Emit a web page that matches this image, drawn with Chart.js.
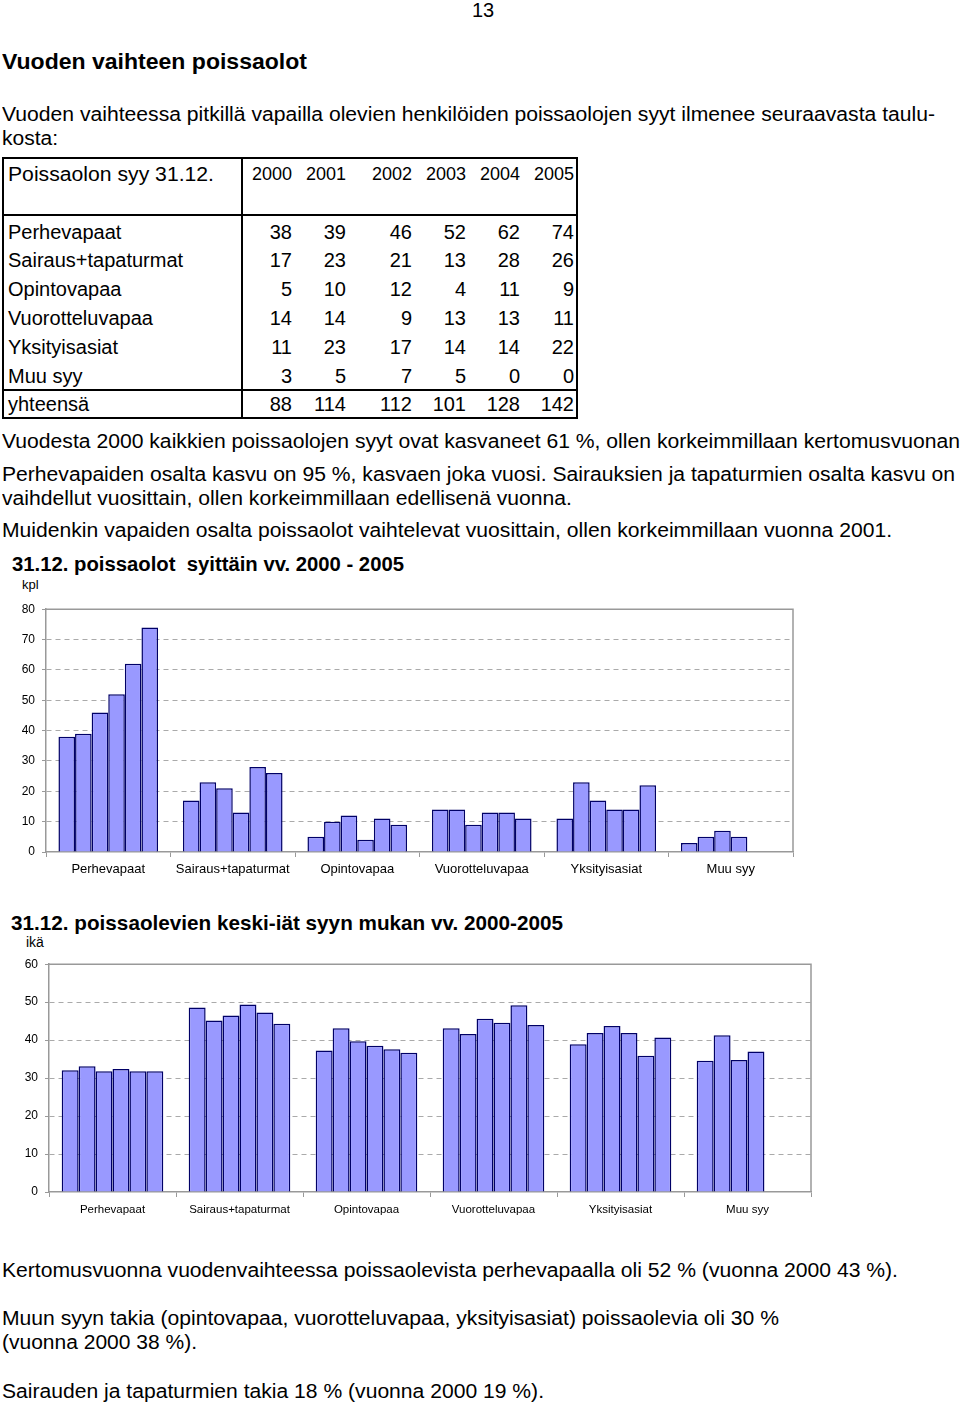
<!DOCTYPE html>
<html>
<head>
<meta charset="utf-8">
<script src="https://cdn.jsdelivr.net/npm/chart.js@4.4.1/dist/chart.umd.min.js"></script>
<style>
body { margin: 0; background: #fff; }
#page { position: relative; width: 960px; height: 1403px; overflow: hidden; font-family: "Liberation Sans", Arial, sans-serif; color: #000; }
.t { position: absolute; white-space: pre; line-height: 1; transform-origin: 0 50%; }
.ln { position: absolute; background: #000; }
.box { position: absolute; }
</style>
</head>
<body>
<div id="page">
  <div class="box" style="left:0;top:595px;width:800px;height:290px"><canvas id="chart1"></canvas></div>
  <div class="box" style="left:0;top:950px;width:820px;height:275px"><canvas id="chart2"></canvas></div>
</div>
<script>
// Years (one bar per year inside each cause)
var years = ['2000', '2001', '2002', '2003', '2004', '2005'];
var causes = ['Perhevapaat', 'Sairaus+tapaturmat', 'Opintovapaa', 'Vuorotteluvapaa', 'Yksityisasiat', 'Muu syy'];

// Absences on 31.12. (kpl), per year, in the order of causes
var kpl2000 = [38, 17, 5, 14, 11, 3];
var kpl2001 = [39, 23, 10, 14, 23, 5];
var kpl2002 = [46, 21, 12, 9, 17, 7];
var kpl2003 = [52, 13, 4, 13, 14, 5];
var kpl2004 = [62, 28, 11, 13, 14, 0];
var kpl2005 = [74, 26, 9, 11, 22, 0];
var totals = [88, 114, 112, 101, 128, 142];

// Average age of the absent persons
var ika2000 = [32.1, 48.6, 37.3, 43.1, 38.9, 34.6];
var ika2001 = [33.1, 45.2, 43.1, 41.6, 41.9, 41.3];
var ika2002 = [31.8, 46.5, 39.7, 45.6, 43.7, 34.8];
var ika2003 = [32.4, 49.4, 38.5, 44.6, 41.9, 37.0];
var ika2004 = [31.8, 47.3, 37.6, 49.2, 35.9, null];
var ika2005 = [31.8, 44.3, 36.7, 44.0, 40.7, null];

var kplTicks = [0, 10, 20, 30, 40, 50, 60, 70, 80];
var ikaTicks = [0, 10, 20, 30, 40, 50, 60];

var page = document.getElementById('page');

// place a line of text; y is the vertical middle of the text
function put(text, x, y, size, w, opts) {
    opts = opts || {};
    var d = document.createElement('div');
    d.className = 't';
    d.textContent = text;
    d.style.left = x + 'px';
    d.style.top = (y - size / 2) + 'px';
    d.style.fontSize = size + 'px';
    if (opts.bold) d.style.fontWeight = 'bold';
    page.appendChild(d);
    var real = d.getBoundingClientRect().width;
    if (w) d.style.transform = 'scaleX(' + (w / real) + ')';
    if (opts.align === 'right') d.style.left = (x - real) + 'px';
    if (opts.align === 'center') d.style.left = (x - real / 2) + 'px';
    return d;
}

function line(x, y, w, h) {
    var d = document.createElement('div');
    d.className = 'ln';
    d.style.left = x + 'px';
    d.style.top = y + 'px';
    d.style.width = w + 'px';
    d.style.height = h + 'px';
    page.appendChild(d);
}

// page text
put('13', 483, 10, 20, 0, {align: 'center'});
put('Vuoden vaihteen poissaolot', 2, 62, 22, 305, {bold: true});
put('Vuoden vaihteessa pitkillä vapailla olevien henkilöiden poissaolojen syyt ilmenee seuraavasta taulu-', 2, 114, 20, 933);
put('kosta:', 2, 138, 20, 56);

// table
line(2, 157, 576, 2);
line(2, 214, 576, 2);
line(2, 389, 576, 2);
line(2, 417, 576, 2);
line(2, 157, 2, 262);
line(241, 157, 2, 262);
line(576, 157, 2, 262);
put('Poissaolon syy 31.12.', 8, 174, 20, 206);
var colRight = [292, 346, 412, 466, 520, 574];
var rowY = [232, 260, 289, 318, 347, 376];
var kplByYear = [kpl2000, kpl2001, kpl2002, kpl2003, kpl2004, kpl2005];
years.forEach(function (y, j) { put(y, colRight[j], 174, 18, 0, {align: 'right'}); });
causes.forEach(function (c, i) {
    put(c, 8, rowY[i], 20);
    kplByYear.forEach(function (arr, j) { put(String(arr[i]), colRight[j], rowY[i], 20, 0, {align: 'right'}); });
});
put('yhteensä', 8, 404, 20);
totals.forEach(function (v, j) { put(String(v), colRight[j], 404, 20, 0, {align: 'right'}); });

put('Vuodesta 2000 kaikkien poissaolojen syyt ovat kasvaneet 61 %, ollen korkeimmillaan kertomusvuonan', 2, 441, 20, 958);
put('Perhevapaiden osalta kasvu on 95 %, kasvaen joka vuosi. Sairauksien ja tapaturmien osalta kasvu on', 2, 474, 20, 953);
put('vaihdellut vuosittain, ollen korkeimmillaan edellisenä vuonna.', 2, 498, 20, 570);
put('Muidenkin vapaiden osalta poissaolot vaihtelevat vuosittain, ollen korkeimmillaan vuonna 2001.', 2, 530, 20, 890);

put('31.12. poissaolot  syittäin vv. 2000 - 2005', 12, 564, 20, 392, {bold: true});
put('kpl', 22, 584, 13);
put('31.12. poissaolevien keski-iät syyn mukan vv. 2000-2005', 11, 922, 21, 552, {bold: true});
put('ikä', 26, 942, 14);

put('Kertomusvuonna vuodenvaihteessa poissaolevista perhevapaalla oli 52 % (vuonna 2000 43 %).', 2, 1270, 20, 896);
put('Muun syyn takia (opintovapaa, vuorotteluvapaa, yksityisasiat) poissaolevia oli 30 %', 2, 1318, 20, 777);
put('(vuonna 2000 38 %).', 2, 1342, 20, 195);
put('Sairauden ja tapaturmien takia 18 % (vuonna 2000 19 %).', 2, 1391, 20, 542);

// charts
Chart.defaults.font.family = '"Liberation Sans", Arial, sans-serif';
Chart.defaults.color = '#000';

// solid grey frame on top and right of the plot area
var frame = {
    id: 'frame',
    afterDraw: function (chart) {
        var a = chart.chartArea, c = chart.ctx;
        c.save();
        c.strokeStyle = '#999';
        c.lineWidth = 1.5;
        c.beginPath();
        c.moveTo(a.left, a.top);
        c.lineTo(a.right, a.top);
        c.lineTo(a.right, a.bottom);
        c.stroke();
        c.restore();
    }
};

function makeChart(id, series, ticks, o) {
    var yMax = ticks[ticks.length - 1];
    return new Chart(document.getElementById(id), {
        type: 'bar',
        data: {
            labels: causes,
            datasets: series.map(function (s, i) {
                return {
                    label: years[i],
                    data: s,
                    backgroundColor: '#9999ff',
                    borderColor: '#000066',
                    borderWidth: 1.5,
                    barPercentage: 1,
                    categoryPercentage: 0.8
                };
            })
        },
        options: {
            responsive: true,
            maintainAspectRatio: false,
            animation: false,
            layout: {padding: {top: o.top, right: o.right, left: 0, bottom: 0}},
            plugins: {legend: {display: false}, tooltip: {enabled: false}},
            scales: {
                x: {
                    grid: {offset: true, drawOnChartArea: false, drawTicks: true, tickLength: 5, color: '#999', tickColor: '#999'},
                    border: {color: '#999', width: 1.5},
                    ticks: {font: {size: o.xFont}, padding: o.xPad, maxRotation: 0, autoSkip: false},
                    afterFit: function (s) { s.height = 33; }
                },
                y: {
                    min: 0,
                    max: yMax,
                    afterBuildTicks: function (s) { s.ticks = ticks.map(function (v) { return {value: v}; }); },
                    grid: {
                        color: function (c) { return (c.tick && (c.tick.value === 0 || c.tick.value === yMax)) ? 'rgba(0,0,0,0)' : '#aaa'; },
                        tickColor: '#999',
                        tickLength: 4,
                        lineWidth: 1
                    },
                    border: {color: '#999', width: 1.5, dash: [5, 4]},
                    ticks: {font: {size: 12}, padding: 7},
                    afterFit: function (s) { s.width = o.yWidth; }
                }
            }
        },
        plugins: [frame]
    });
}

makeChart('chart1', [kpl2000, kpl2001, kpl2002, kpl2003, kpl2004, kpl2005], kplTicks,
    {top: 12, right: 7, yWidth: 46, xFont: 13, xPad: 5});
makeChart('chart2', [ika2000, ika2001, ika2002, ika2003, ika2004, ika2005], ikaTicks,
    {top: 13, right: 9, yWidth: 49, xFont: 11.5, xPad: 6});
</script>
</body>
</html>
